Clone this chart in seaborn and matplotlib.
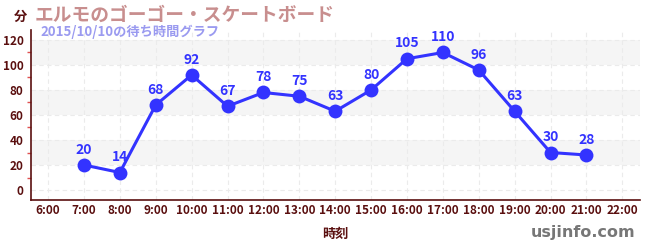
import matplotlib
matplotlib.use("Agg")
import matplotlib.pyplot as plt
import seaborn as sns
import pandas as pd
from matplotlib.ticker import MultipleLocator

hours = [7, 8, 9, 10, 11, 12, 13, 14, 15, 16, 17, 18, 19, 20, 21]
waits = [20, 14, 68, 92, 67, 78, 75, 63, 80, 105, 110, 96, 63, 30, 28]
tick_hours = list(range(6, 23))
tick_labels = [f"{h}:00" for h in tick_hours]
title = "エルモのゴーゴー・スケートボード"
subtitle = "2015/10/10の待ち時間グラフ"
xlabel = "時刻"
ylabel = "分"
credit = "usjinfo.com"

sns.set_theme(style="white")
plt.rcParams['font.family'] = ['Noto Sans CJK JP', 'DejaVu Sans']

df = pd.DataFrame({"hour": hours, "wait": waits})

fig = plt.figure(figsize=(6.5, 2.5), dpi=100)
ax = fig.add_axes([0.048, 0.2, 0.937, 0.68])

dark = "#5a0f0f"
blue = "#3333ff"

# alternating bands
for lo in (20, 60, 100):
    ax.axhspan(lo, lo + 20, color="#f5f5f5", zorder=0, lw=0)

sns.lineplot(data=df, x="hour", y="wait", ax=ax, color=blue, lw=2.2,
             marker="o", markersize=10, markeredgewidth=0, zorder=3)

for h, w in zip(hours, waits):
    ax.annotate(str(w), (h, w), xytext=(0, 6), textcoords="offset points",
                ha="center", va="bottom", color=blue, fontsize=10,
                fontweight="bold", zorder=4)

ax.set_xlim(5.53, 22.5)
ax.set_ylim(-8, 128)
ax.set_xticks(tick_hours)
ax.set_xticklabels(tick_labels)
ax.set_yticks(range(0, 121, 20))
ax.yaxis.set_minor_locator(MultipleLocator(10))

ax.grid(True, which="major", axis="both", color="#ebebeb", ls=(0, (4, 3)), lw=0.8)
ax.set_axisbelow(True)

for s in ("top", "right"):
    ax.spines[s].set_visible(False)
for s in ("left", "bottom"):
    ax.spines[s].set_color(dark)
    ax.spines[s].set_linewidth(1.2)

ax.tick_params(axis="x", direction="in", length=4, color="#444444", width=1,
               labelsize=8.5, labelcolor=dark, pad=3)
ax.tick_params(axis="y", which="major", direction="inout", length=7, color=dark,
               width=1, labelsize=8.5, labelcolor=dark, pad=2)
ax.tick_params(axis="y", which="minor", direction="out", length=3,
               color="#e05050", width=1, left=True)
for lab in ax.get_xticklabels() + ax.get_yticklabels():
    lab.set_fontweight("bold")

ax.set_xlabel(xlabel, color=dark, fontsize=9.5, fontweight="bold", labelpad=7)
ax.set_ylabel("")

fig.text(14 / 650, 1 - 17 / 250, ylabel, color=dark, fontsize=9.5, fontweight="bold",
         ha="left", va="center")
fig.text(35 / 650, 1 - 15 / 250, title, color="#c88e8e", fontsize=13.5,
         fontweight="bold", ha="left", va="center")
fig.text(40 / 650, 1 - 32 / 250, subtitle, color="#9a9af0", fontsize=9.5,
         fontweight="bold", ha="left", va="center")
fig.text(635 / 650, 1 - 233 / 250, credit, color="#777777", fontsize=11.5,
         fontweight="bold", ha="right", va="center",
         family=["DejaVu Sans"])

fig.savefig("out.png", dpi=100)
